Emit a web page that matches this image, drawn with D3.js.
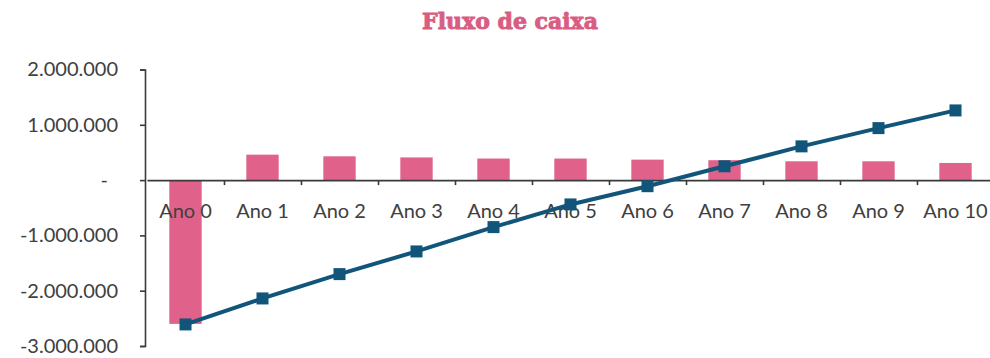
<!DOCTYPE html>
<html>
<head>
<meta charset="utf-8">
<script src="https://cdn.jsdelivr.net/npm/d3@7"></script>
<style>
  body { margin: 0; background: #fff; }
  svg { display: block; }
</style>
</head>
<body>
<svg></svg>
<script>
const width = 990,
  height = 358

// data
const categories = ["Ano 0", "Ano 1", "Ano 2", "Ano 3", "Ano 4", "Ano 5", "Ano 6", "Ano 7", "Ano 8", "Ano 9", "Ano 10"]
const fluxo = [-2600000, 460000, 430000, 410000, 390000, 390000, 370000, 360000, 340000, 340000, 310000]
const acumulado = [-2610000, -2140000, -1700000, -1290000, -850000, -440000, -110000, 250000, 610000, 940000, 1260000]
const yTicks = [2000000, 1000000, 0, -1000000, -2000000, -3000000]

const svg = d3.select("svg").attr("width", width).attr("height", height)

const fmt = d3.formatLocale({ decimal: ",", thousands: ".", grouping: [3], currency: ["", ""], minus: "-" }).format(",.0f")

const x = d3.scaleBand().domain(categories).range([147, 994]).paddingInner(0.58).paddingOuter(0.29)
const xb = d3.scaleLinear().domain([0, categories.length]).range([147, 994])
const y = d3.scaleLinear().domain([-3000000, 2000000]).range([346, 69.5])

const axisColor = "#3a3a3a"
const labelFont = "Lato, 'Open Sans', sans-serif"
const lineColor = "#11557a"

svg.append("text")
  .attr("x", 510)
  .attr("y", 29)
  .attr("text-anchor", "middle")
  .style("font-family", "'DejaVu Serif', serif")
  .style("font-weight", "bold")
  .style("font-size", "22px")
  .style("fill", "#d95c82")
  .style("stroke", "#d95c82")
  .style("stroke-width", 0.9)
  .text("Fluxo de caixa")

// bars
svg.append("g")
  .selectAll("rect")
  .data(fluxo)
  .join("rect")
  .attr("x", (d, i) => x(categories[i]))
  .attr("width", x.bandwidth())
  .attr("y", d => y(Math.max(0, d)))
  .attr("height", d => Math.abs(y(d) - y(0)))
  .style("fill", "#e0628a")

// y axis
const yAxis = svg.append("g")
  .attr("transform", "translate(145,0)")
  .call(d3.axisLeft(y).tickValues(yTicks).tickSize(5).tickPadding(22)
    .tickFormat(d => d === 0 ? "-" : fmt(d)))
yAxis.select(".domain").attr("stroke", axisColor).attr("stroke-width", 1.6)
yAxis.selectAll(".tick line").attr("stroke", axisColor).attr("stroke-width", 1.6)
yAxis.selectAll(".tick text")
  .style("font-family", labelFont).style("font-size", "20px").style("fill", "#404040")
  .attr("dx", d => d === 0 ? -10 : 0)

// x axis: zero line with boundary ticks
const xAxis = svg.append("g")
  .attr("transform", `translate(0,${y(0)})`)
  .call(d3.axisBottom(xb).tickValues(d3.range(1, categories.length)).tickSize(5).tickSizeOuter(0).tickFormat(""))
xAxis.select(".domain").attr("stroke", axisColor).attr("stroke-width", 1.6)
xAxis.selectAll(".tick line").attr("stroke", axisColor).attr("stroke-width", 1.6)

// category labels
svg.append("g")
  .selectAll("text")
  .data(categories)
  .join("text")
  .attr("x", d => x(d) + x.bandwidth() / 2)
  .attr("y", 218)
  .attr("text-anchor", "middle")
  .style("font-family", labelFont)
  .style("font-size", "20px")
  .style("fill", "#404040")
  .text(d => d)

// cumulative line
const cx = (d, i) => x(categories[i]) + x.bandwidth() / 2
const line = d3.line().x(cx).y(d => y(d))

svg.append("path")
  .datum(acumulado)
  .attr("d", line)
  .style("fill", "none")
  .style("stroke", lineColor)
  .style("stroke-width", 4)

svg.append("g")
  .selectAll("rect")
  .data(acumulado)
  .join("rect")
  .attr("x", (d, i) => cx(d, i) - 6)
  .attr("y", d => y(d) - 6)
  .attr("width", 12)
  .attr("height", 12)
  .style("fill", lineColor)
</script>
</body>
</html>
